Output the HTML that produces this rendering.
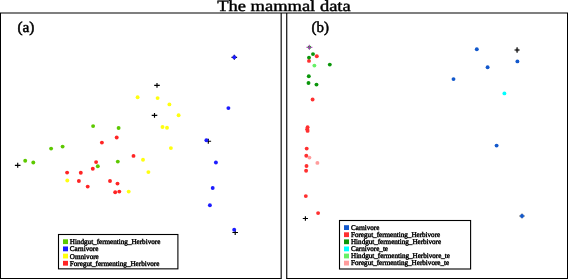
<!DOCTYPE html>
<html><head><meta charset="utf-8"><style>
html,body{margin:0;padding:0;background:#fff;}
body{width:568px;height:279px;overflow:hidden;}
svg{display:block;will-change:transform;}
text{font-family:"Liberation Serif",serif;fill:#000;text-rendering:geometricPrecision;}
.ttl{font-size:15.6px;stroke:#000;stroke-width:0.42px;}
.lab{font-size:15px;stroke:#000;stroke-width:0.5px;}
.lg{font-size:7.3px;stroke:#000;stroke-width:0.42px;}
</style></head><body>
<svg width="568" height="279" viewBox="0 0 568 279">
<path d="M0.5 13V278.5" stroke="#000" stroke-width="1" fill="none"/><path d="M0 278.5H281.2" stroke="#000" stroke-width="1" fill="none"/><path d="M281.2 13V279" stroke="#222" stroke-width="1.3" fill="none"/>
<path d="M286.7 13V279" stroke="#222" stroke-width="1.3" fill="none"/><path d="M286.5 278.5H568" stroke="#000" stroke-width="1" fill="none"/><path d="M567.5 13V279" stroke="#000" stroke-width="1" fill="none"/>
<path d="M0 13H568" stroke="#000" stroke-width="1.05" fill="none"/>
<path d="M14.90 165.3H20.50M17.7 162.86V167.74" stroke="#000" stroke-width="1.15" fill="none"/>
<path d="M154.20 85.4H159.80M157.0 82.96V87.84" stroke="#000" stroke-width="1.15" fill="none"/>
<path d="M151.70 115.4H157.30M154.5 112.96V117.84" stroke="#000" stroke-width="1.15" fill="none"/>
<path d="M205.50 141.2H211.10M208.3 138.76V143.64" stroke="#000" stroke-width="1.15" fill="none"/>
<path d="M232.40 232.5H238.00M235.2 230.06V234.94" stroke="#000" stroke-width="1.15" fill="none"/>
<path d="M231.50 57.3H237.10M234.3 54.86V59.74" stroke="#000" stroke-width="1.15" fill="none"/>
<circle cx="25.2" cy="160.7" r="1.95" fill="#5dc800"/><circle cx="33.3" cy="162.5" r="1.95" fill="#5dc800"/><circle cx="51.1" cy="148.6" r="1.95" fill="#5dc800"/><circle cx="62.6" cy="146.6" r="1.95" fill="#5dc800"/><circle cx="93.1" cy="126.1" r="1.95" fill="#5dc800"/><circle cx="118.6" cy="128.0" r="1.95" fill="#5dc800"/><circle cx="117.8" cy="161.6" r="1.95" fill="#5dc800"/><circle cx="97.8" cy="166.3" r="1.95" fill="#5dc800"/>
<circle cx="116.7" cy="137.5" r="1.95" fill="#ff2424"/><circle cx="101.9" cy="142.6" r="1.95" fill="#ff2424"/><circle cx="96.1" cy="162.1" r="1.95" fill="#ff2424"/><circle cx="92.8" cy="168.8" r="1.95" fill="#ff2424"/><circle cx="67.1" cy="172.6" r="1.95" fill="#ff2424"/><circle cx="80.8" cy="172.7" r="1.95" fill="#ff2424"/><circle cx="78.9" cy="181.0" r="1.95" fill="#ff2424"/><circle cx="87.7" cy="186.6" r="1.95" fill="#ff2424"/><circle cx="110.0" cy="181.0" r="1.95" fill="#ff2424"/><circle cx="117.5" cy="183.6" r="1.95" fill="#ff2424"/><circle cx="115.2" cy="192.2" r="1.95" fill="#ff2424"/><circle cx="119.3" cy="191.6" r="1.95" fill="#ff2424"/><circle cx="133.5" cy="155.9" r="1.95" fill="#ff2424"/>
<circle cx="67.3" cy="180.5" r="1.95" fill="#ffff10"/><circle cx="128.7" cy="191.6" r="1.95" fill="#ffff10"/><circle cx="137.6" cy="97.3" r="1.95" fill="#ffff10"/><circle cx="157.6" cy="98.1" r="1.95" fill="#ffff10"/><circle cx="169.4" cy="104.4" r="1.95" fill="#ffff10"/><circle cx="178.6" cy="115.3" r="1.95" fill="#ffff10"/><circle cx="162.5" cy="127.0" r="1.95" fill="#ffff10"/><circle cx="167.0" cy="127.7" r="1.95" fill="#ffff10"/><circle cx="170.9" cy="148.1" r="1.95" fill="#ffff10"/><circle cx="143.0" cy="159.7" r="1.95" fill="#ffff10"/><circle cx="148.4" cy="172.1" r="1.95" fill="#ffff10"/>
<circle cx="234.3" cy="57.3" r="1.95" fill="#1c1cff"/><circle cx="228.4" cy="108.1" r="1.95" fill="#1c1cff"/><circle cx="206.4" cy="140.2" r="1.95" fill="#1c1cff"/><circle cx="215.9" cy="162.5" r="1.95" fill="#1c1cff"/><circle cx="212.7" cy="188.0" r="1.95" fill="#1c1cff"/><circle cx="209.9" cy="205.2" r="1.95" fill="#1c1cff"/><circle cx="234.2" cy="229.8" r="1.95" fill="#1c1cff"/>
<path d="M302.80 218.5H308.00M305.4 216.24V220.76" stroke="#000" stroke-width="1.15" fill="none"/>
<path d="M514.30 50.0H519.90M517.1 47.00V53.00" stroke="#444" stroke-width="1.15" fill="none"/>
<path d="M519.10 216.0H524.90M522.0 213.48V218.52" stroke="#666" stroke-width="1.1" fill="none"/>
<circle cx="476.8" cy="49.2" r="1.95" fill="#1258cc"/><circle cx="517.4" cy="61.4" r="1.95" fill="#1258cc"/><circle cx="487.6" cy="67.3" r="1.95" fill="#1258cc"/><circle cx="453.5" cy="79.1" r="1.95" fill="#1258cc"/><circle cx="496.6" cy="145.6" r="1.95" fill="#1258cc"/><circle cx="522.0" cy="216.0" r="1.95" fill="#1258cc"/>
<circle cx="504.4" cy="93.4" r="1.95" fill="#00ffff"/>
<circle cx="316.8" cy="56.3" r="1.95" fill="#ff3030"/><circle cx="309.0" cy="60.9" r="1.95" fill="#ff3030"/><circle cx="312.6" cy="99.5" r="1.95" fill="#ff3030"/><circle cx="307.6" cy="127.3" r="1.95" fill="#ff3030"/><circle cx="307.2" cy="129.3" r="1.95" fill="#ff3030"/><circle cx="307.6" cy="130.9" r="1.95" fill="#ff3030"/><circle cx="306.7" cy="148.6" r="1.95" fill="#ff3030"/><circle cx="306.3" cy="155.8" r="1.95" fill="#ff3030"/><circle cx="306.5" cy="166.0" r="1.95" fill="#ff3030"/><circle cx="306.1" cy="170.8" r="1.95" fill="#ff3030"/><circle cx="305.8" cy="196.1" r="1.95" fill="#ff3030"/><circle cx="318.1" cy="213.1" r="1.95" fill="#ff3030"/>
<circle cx="313.0" cy="54.1" r="1.95" fill="#0a960a"/><circle cx="309.0" cy="57.6" r="1.95" fill="#0a960a"/><circle cx="329.8" cy="64.6" r="1.95" fill="#0a960a"/><circle cx="308.8" cy="76.3" r="1.95" fill="#0a960a"/><circle cx="308.5" cy="83.0" r="1.95" fill="#0a960a"/><circle cx="316.5" cy="84.6" r="1.95" fill="#0a960a"/>
<circle cx="314.4" cy="65.6" r="1.95" fill="#66f066"/>
<circle cx="309.4" cy="157.6" r="1.95" fill="#ff9c9c"/><circle cx="317.4" cy="162.9" r="1.95" fill="#ff9c9c"/>
<circle cx="309.4" cy="47.3" r="1.8" fill="#0a960a"/>
<circle cx="517.1" cy="50" r="1.7" fill="#2a2a2a"/>
<g opacity="0.8"><path d="M306.40 47.3H312.40M309.4 44.69V49.91" stroke="#b040c0" stroke-width="1.15" fill="none"/></g>
<rect x="58.5" y="234.5" width="119.4" height="34.35000000000002" fill="#fff" stroke="#000" stroke-width="1.1"/><rect x="63.0" y="239.3" width="5" height="4.8" fill="#5dc800"/><text x="69.8" y="244.20" class="lg" textLength="90.5" lengthAdjust="spacingAndGlyphs">Hindgut_fermenting_Herbivore</text><rect x="63.0" y="246.48000000000002" width="5" height="4.8" fill="#1c1cff"/><text x="69.8" y="251.38" class="lg" textLength="28.6" lengthAdjust="spacingAndGlyphs">Carnivore</text><rect x="63.0" y="253.66000000000003" width="5" height="4.8" fill="#ffff10"/><text x="69.8" y="258.56" class="lg" textLength="29" lengthAdjust="spacingAndGlyphs">Omnivore</text><rect x="63.0" y="260.84000000000003" width="5" height="4.8" fill="#ff2424"/><text x="69.8" y="265.74" class="lg" textLength="89.6" lengthAdjust="spacingAndGlyphs">Foregut_fermenting_Herbivore</text>
<rect x="339.5" y="220.5" width="131.10000000000002" height="48.5" fill="#fff" stroke="#000" stroke-width="1.1"/><rect x="344.0" y="225.2" width="5" height="4.8" fill="#1258cc"/><text x="351.0" y="229.70" class="lg" textLength="28.4" lengthAdjust="spacingAndGlyphs">Carnivore</text><rect x="344.0" y="232.29999999999998" width="5" height="4.8" fill="#ff3030"/><text x="351.0" y="236.80" class="lg" textLength="89.2" lengthAdjust="spacingAndGlyphs">Foregut_fermenting_Herbivore</text><rect x="344.0" y="239.39999999999998" width="5" height="4.8" fill="#0a960a"/><text x="351.0" y="243.90" class="lg" textLength="90.1" lengthAdjust="spacingAndGlyphs">Hindgut_fermenting_Herbivore</text><rect x="344.0" y="246.5" width="5" height="4.8" fill="#00ffff"/><text x="351.0" y="251.00" class="lg" textLength="37" lengthAdjust="spacingAndGlyphs">Carnivore_te</text><rect x="344.0" y="253.6" width="5" height="4.8" fill="#66f066"/><text x="351.0" y="258.10" class="lg" textLength="99" lengthAdjust="spacingAndGlyphs">Hindgut_fermenting_Herbivore_te</text><rect x="344.0" y="260.7" width="5" height="4.8" fill="#ff9c9c"/><text x="351.0" y="265.20" class="lg" textLength="98.2" lengthAdjust="spacingAndGlyphs">Foregut_fermenting_Herbivore_te</text>
<text x="217.2" y="11.0" class="ttl" textLength="133.5" lengthAdjust="spacingAndGlyphs">The mammal data</text>
<text x="17.4" y="31.7" class="lab" textLength="17.0" lengthAdjust="spacingAndGlyphs">(a)</text>
<text x="311.6" y="31.7" class="lab" textLength="17.4" lengthAdjust="spacingAndGlyphs">(b)</text>
</svg>
</body></html>
